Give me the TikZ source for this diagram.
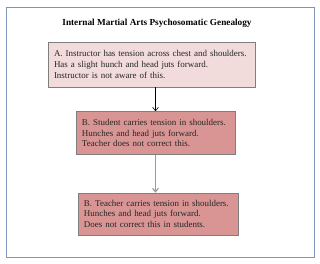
\documentclass[tikz,border=0pt]{standalone}
\usepackage{fontspec}
\setmainfont{Liberation Serif}
\usepackage{xcolor}
\usetikzlibrary{positioning, arrows.meta, calc}

\definecolor{palepink}{HTML}{F2DBDB}
\definecolor{rosepink}{HTML}{D99594}
\definecolor{boxgray}{HTML}{7F7F7F}
\definecolor{framblue}{HTML}{7F95BA}
\definecolor{arrgray}{HTML}{9A9A9A}

\begin{document}
\begin{tikzpicture}[
  stepbox/.style={draw=boxgray, rectangle, inner xsep=0.18cm, inner ysep=0pt, align=left,
    font=\fontsize{7.65}{9.2}\selectfont, text=black!85},
  >={Straight Barb[length=3pt, width=5pt]}
]
  \useasboundingbox (0,0) rectangle (9.6,-7.92);
  % outer frame
  \draw[framblue, line width=0.6pt] (0.18,-0.21) rectangle (9.42,-7.71);

  % title
  \node[font=\bfseries\fontsize{7.9}{9}\selectfont] (title) at (4.71,-0.69) {Internal Martial Arts Psychosomatic Genealogy};

  % 1. Boxes
  \node[stepbox, fill=palepink, text width=5.85cm, minimum height=1.35cm] (a) at (4.545,-1.935)
    {A. Instructor has tension across chest and shoulders.\\
     Has a slight hunch and head juts forward.\\
     Instructor is not aware of this.};
  \node[stepbox, fill=rosepink, text width=4.41cm, minimum height=1.29cm, below=0.72cm of a, xshift=0.12cm] (b)
    {B. Student carries tension in shoulders.\\
     Hunches and head juts forward.\\
     Teacher does not correct this.};
  \node[stepbox, fill=rosepink, text width=4.44cm, minimum height=1.26cm, below=1.14cm of b, xshift=0.075cm] (c)
    {B. Teacher carries tension in shoulders.\\
     Hunches and head juts forward.\\
     Does not correct this in students.};

  % 2. Arrows
  \draw[->, line width=0.5pt] (a.south -| b.north) -- (b.north);
  \draw[->, arrgray, line width=1pt] (b.south) -- (c.north -| b.south);

\end{tikzpicture}
\end{document}
